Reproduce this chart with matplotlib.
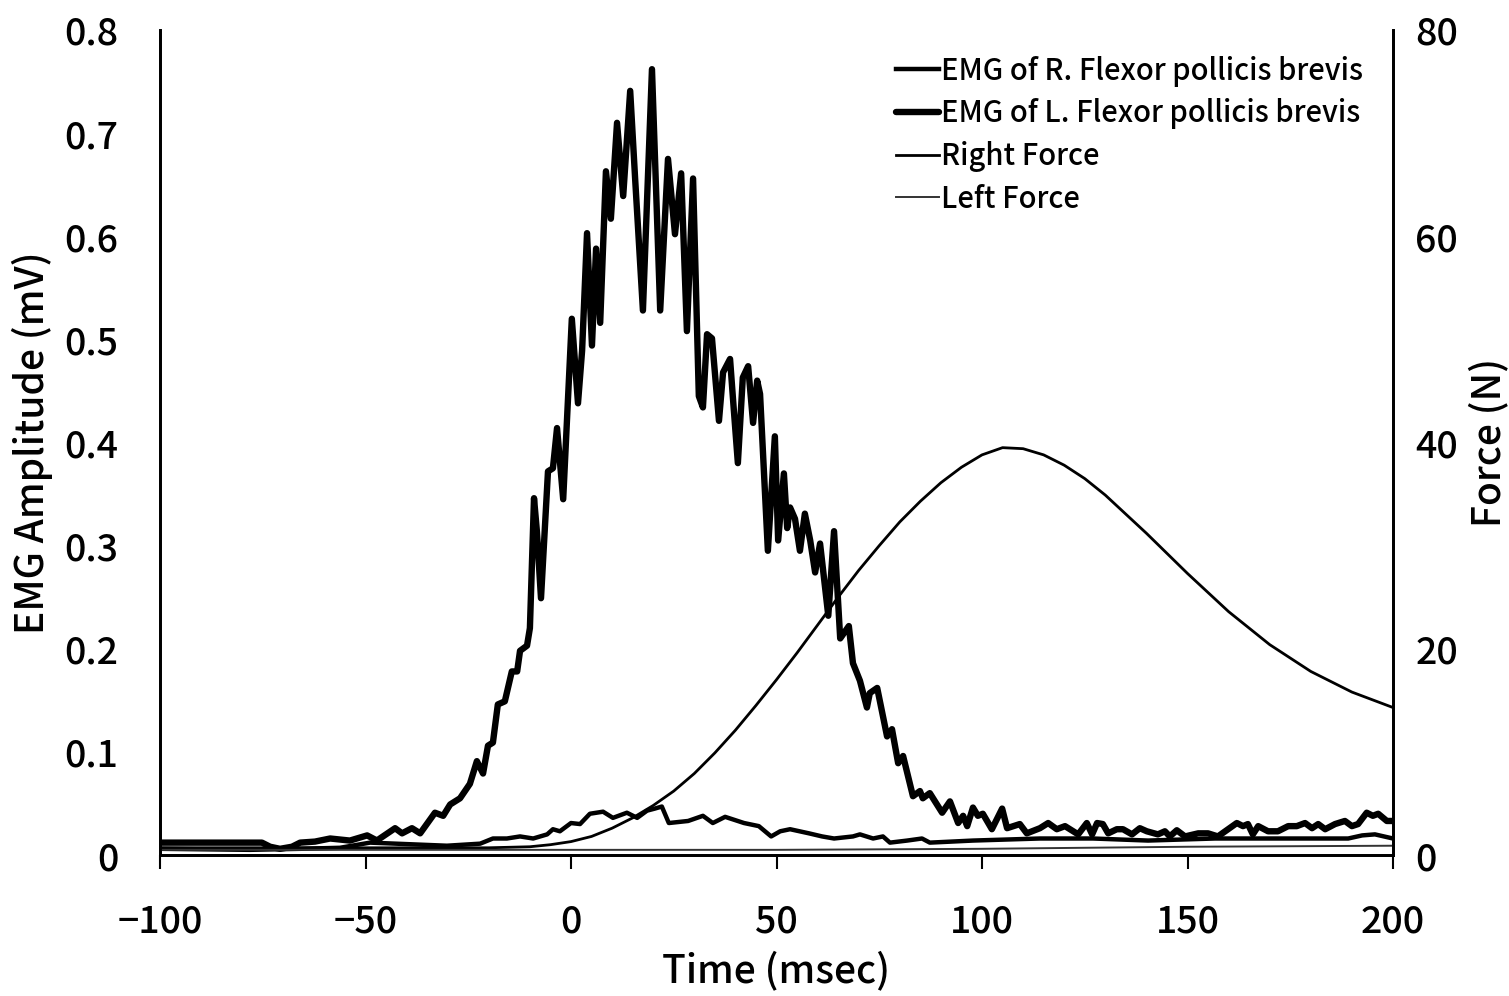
import matplotlib
matplotlib.use("Agg")
import matplotlib.pyplot as plt

plt.rcParams['font.family'] = ['Noto Sans CJK JP', 'DejaVu Sans']

# ---- data ----
emg_big_t = [-100, -83.0, -75.2, -73.2, -70.8, -67.9, -65.9, -62.3, -58.6, -53.8, -49.6, -47.2, -46.5,
             -42.8, -41.1, -38.7, -36.7, -33.1, -31.1, -29.4, -27.0, -24.6, -22.9, -21.4, -20.2, -19.0,
             -17.8, -16.1, -14.4, -13.1, -12.4, -10.7, -10.0, -9.0, -8.3, -7.3, -5.6, -4.4, -3.4, -1.9,
             0.2, 1.7, 2.7, 3.9, 5.1, 6.1, 7.1, 8.5, 9.7, 11.2, 12.7, 14.4, 15.6, 17.5, 19.7, 21.7,
             23.6, 25.3, 26.8, 28.2, 29.7, 31.1, 32.1, 33.1, 34.3, 36.0, 37.0, 38.7, 39.4, 40.6, 41.8,
             43.1, 44.3, 45.3, 46.0, 47.9, 49.6, 50.4, 51.8, 52.6, 53.3, 54.5, 55.7, 56.9, 58.2, 59.4,
             60.6, 62.6, 64.0, 65.5, 67.6, 68.6, 70.3, 72.0, 72.7, 74.5, 76.9, 78.1, 79.6, 80.8, 83.2,
             84.9, 85.6, 87.3, 90.3, 92.2, 94.2, 95.4, 96.4, 97.8, 99.0, 100.2, 102.4, 104.9, 106.1,
             109.2, 110.9, 114.1, 116.1, 118.2, 120.2, 123.4, 125.5, 126.8, 128.0, 129.4, 130.7, 132.8,
             134.3, 136.5, 138.4, 140.1, 142.8, 144.5, 145.7, 147.4, 149.4, 152.6, 155.0, 157.4, 159.9,
             162.0, 163.5, 164.7, 165.9, 167.2, 169.6, 172.0, 174.5, 176.6, 178.6, 180.3, 181.8, 183.5,
             185.9, 188.3, 190.0, 191.5, 193.6, 195.1, 196.4, 198.5, 200]
emg_big_v = [0.012, 0.012, 0.012, 0.008, 0.006, 0.008, 0.012, 0.013, 0.016, 0.014, 0.019, 0.014, 0.016,
             0.026, 0.021, 0.026, 0.021, 0.041, 0.038, 0.049, 0.055, 0.069, 0.091, 0.079, 0.106, 0.109,
             0.146, 0.149, 0.178, 0.178, 0.198, 0.203, 0.220, 0.346, 0.314, 0.249, 0.372, 0.375, 0.414, 0.345,
             0.520, 0.438, 0.489, 0.603, 0.494, 0.588, 0.516, 0.663, 0.617, 0.710, 0.639, 0.741, 0.656, 0.528, 0.762, 0.528,
             0.675, 0.602, 0.661, 0.508, 0.656, 0.445, 0.434, 0.505, 0.501, 0.421, 0.468, 0.481, 0.443, 0.380, 0.463,
             0.474, 0.419, 0.460, 0.447, 0.295, 0.406, 0.305, 0.370, 0.317, 0.337, 0.326, 0.295, 0.331, 0.305, 0.274,
             0.302, 0.232, 0.314, 0.210, 0.222, 0.186, 0.169, 0.143, 0.157, 0.162, 0.115, 0.122, 0.089, 0.096, 0.057,
             0.062, 0.055, 0.060, 0.041, 0.052, 0.031, 0.038, 0.028, 0.046, 0.038, 0.040, 0.025, 0.045, 0.026,
             0.030, 0.021, 0.026, 0.031, 0.025, 0.028, 0.020, 0.031, 0.020, 0.031, 0.030, 0.021, 0.025,
             0.025, 0.020, 0.026, 0.023, 0.020, 0.023, 0.018, 0.024, 0.018, 0.021, 0.021, 0.018, 0.025,
             0.031, 0.028, 0.030, 0.020, 0.028, 0.023, 0.023, 0.028, 0.028, 0.031, 0.026, 0.030, 0.025,
             0.030, 0.033, 0.028, 0.030, 0.041, 0.038, 0.040, 0.033, 0.033]

emg_small_t = [-100, -78.1, -65.9, -56.2, -48.9, -30.2, -22.1, -19.0, -15.6, -12.4, -9.2, -5.8, -4.4,
               -2.7, 0.0, 2.2, 4.6, 7.8, 10.2, 13.6, 16.1, 18.5, 20.4, 22.1, 23.8, 28.5, 32.1, 34.5,
               37.5, 42.1, 45.7, 48.7, 50.9, 53.3, 57.9, 61.1, 64.0, 68.6, 70.3, 73.5, 75.9, 77.6,
               81.8, 85.4, 87.3, 97.8, 114.1, 127.0, 140.4, 156.7, 173.0, 189.1, 192.5, 195.6, 200]
emg_small_v = [0.006, 0.005, 0.006, 0.007, 0.012, 0.009, 0.011, 0.016, 0.016, 0.018, 0.016, 0.020, 0.025,
               0.023, 0.031, 0.030, 0.040, 0.042, 0.036, 0.041, 0.036, 0.043, 0.045, 0.047, 0.031, 0.033, 0.038, 0.031,
               0.037, 0.031, 0.028, 0.018, 0.023, 0.025, 0.021, 0.018, 0.016, 0.018, 0.020, 0.016, 0.018, 0.012,
               0.014, 0.016, 0.012, 0.014, 0.016, 0.016, 0.014, 0.016, 0.016, 0.016, 0.019, 0.020, 0.016]

force_r_t = [-100, -20, -10, -5, 0, 5, 10, 15, 20, 25, 30, 35, 40, 45, 50, 55, 60, 65, 70, 75, 80,
             85, 90, 95, 100, 105, 110, 115, 120, 125, 130, 140, 150, 160, 170, 180, 190, 200]
force_r_n = [0.7, 0.7, 0.8, 1.0, 1.3, 1.8, 2.6, 3.6, 4.8, 6.2, 7.9, 9.9, 12.1, 14.5, 17.0, 19.6, 22.3,
             25.0, 27.6, 30.0, 32.3, 34.3, 36.1, 37.6, 38.8, 39.5, 39.4, 38.8, 37.8, 36.5, 34.9, 31.2,
             27.3, 23.6, 20.4, 17.8, 15.8, 14.3]

force_l_t = [-100, 0, 50, 100, 150, 200]
force_l_n = [0.5, 0.5, 0.5, 0.6, 0.8, 0.9]

x_ticks = [-100, -50, 0, 50, 100, 150, 200]
x_labels = ["\u2212100", "\u221250", "0", "50", "100", "150", "200"]
y_ticks = [0, 0.1, 0.2, 0.3, 0.4, 0.5, 0.6, 0.7, 0.8]
y_labels = ["0", "0.1", "0.2", "0.3", "0.4", "0.5", "0.6", "0.7", "0.8"]
y2_ticks = [0, 20, 40, 60, 80]

FW = 'medium'

fig = plt.figure(figsize=(15.09, 9.96), dpi=100)
ax = fig.add_axes([160/1509, 1-855/996, (1393-160)/1509, (855-30)/996])
ax2 = ax.twinx()

l1, = ax.plot(emg_small_t, emg_small_v, color='black', lw=3.2, solid_joinstyle='round',
              label='EMG of R. Flexor pollicis brevis')
l2, = ax.plot(emg_big_t, emg_big_v, color='black', lw=4.6, solid_joinstyle='round',
              solid_capstyle='round', label='EMG of L. Flexor pollicis brevis')
l3, = ax2.plot(force_r_t, force_r_n, color='black', lw=2.0, label='Right Force')
l4, = ax2.plot(force_l_t, force_l_n, color='#333333', lw=1.4, label='Left Force')

ax.set_xlim(-100, 200)
ax.set_ylim(0, 0.8)
ax2.set_ylim(0, 80)

ax.set_xticks(x_ticks)
ax.set_xticklabels(x_labels, fontweight=FW)
ax.set_yticks(y_ticks)
ax.set_yticklabels(y_labels, fontweight=FW)
ax2.set_yticks(y2_ticks)
for t in ax2.get_yticklabels():
    t.set_fontweight(FW)

for a in (ax, ax2):
    a.spines['top'].set_visible(False)
    for s in a.spines.values():
        s.set_linewidth(2.0)

ax.tick_params(axis='x', direction='out', length=10, width=1.5, labelsize=27, pad=24)
ax.tick_params(axis='y', length=0, labelsize=27, pad=30)
ax2.tick_params(axis='y', length=0, labelsize=27, pad=16)

ax.set_xlabel('Time (msec)', fontsize=28, fontweight=FW, labelpad=8)
ax.set_ylabel('EMG Amplitude (mV)', fontsize=28, fontweight=FW, labelpad=8)
ax2.set_ylabel('Force (N)', fontsize=28, fontweight=FW, labelpad=8)

leg = ax.legend(handles=[l1, l2, l3, l4], loc='upper right', bbox_to_anchor=(0.985, 0.983),
                frameon=False, prop={'size': 21, 'weight': FW}, handlelength=1.5,
                handletextpad=0.05, labelspacing=0.40, borderaxespad=0)

fig.savefig('out.png', dpi=100)
